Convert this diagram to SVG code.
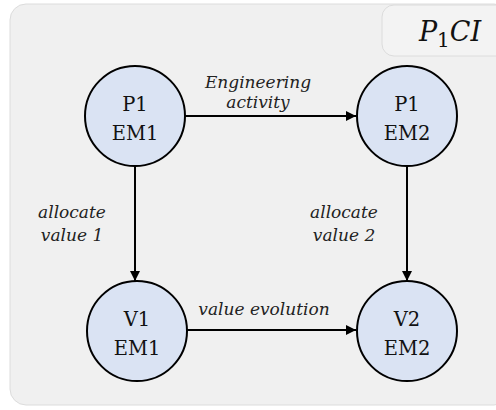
<svg xmlns="http://www.w3.org/2000/svg" width="496" height="410" viewBox="0 0 496 410">
<defs>
<style>
.node circle{fill:#dae3f3;stroke:#000;stroke-width:2}
.node text{font-family:"DejaVu Serif","Liberation Serif",serif;font-size:19.5px;fill:#111;text-anchor:middle}
.lbl{font-family:"DejaVu Serif","Liberation Serif",serif;font-style:italic;font-size:17px;fill:#222;text-anchor:middle}
.conn line{stroke:#000;stroke-width:2;marker-end:url(#ah)}
</style>
<marker id="ah" viewBox="0 0 10 10" refX="10" refY="5" markerWidth="5" markerHeight="5" orient="auto" markerUnits="strokeWidth">
<path d="M0,0 L10,5 L0,10 z" fill="#000"/>
</marker>
</defs>
<rect width="496" height="410" fill="#fff"/>
<rect x="10" y="4" width="500" height="401" rx="16" fill="#f0f0f0" stroke="#dcdcdc" stroke-width="1"/>
<g id="title">
<rect x="382" y="5" width="130" height="51" rx="12" fill="#f3f3f3" stroke="#dcdcdc" stroke-width="1"/>
<text x="450" y="41" font-family="'DejaVu Serif','Liberation Serif',serif" font-style="italic" font-size="27" text-anchor="middle" fill="#111">P<tspan font-style="normal" font-size="20" dy="6">1</tspan><tspan dy="-6">CI</tspan></text>
</g>
<g id="connectors" class="conn">
<line x1="185" y1="116" x2="356" y2="116"/>
<line x1="135" y1="166" x2="135" y2="281"/>
<line x1="407" y1="166" x2="407" y2="281"/>
<line x1="187" y1="330" x2="356" y2="330"/>
<text class="lbl" x="258" y="88">Engineering</text>
<text class="lbl" x="258" y="108">activity</text>
<text class="lbl" x="72" y="218">allocate</text>
<text class="lbl" x="72" y="241">value 1</text>
<text class="lbl" x="344" y="218">allocate</text>
<text class="lbl" x="344" y="241">value 2</text>
<text class="lbl" x="264" y="315">value evolution</text>
</g>
<g id="p1em1" class="node"><circle cx="135" cy="116" r="50"/><text x="135" y="111">P1</text><text x="135" y="140">EM1</text></g>
<g id="p1em2" class="node"><circle cx="407" cy="116" r="50"/><text x="407" y="111">P1</text><text x="407" y="140">EM2</text></g>
<g id="v1em1" class="node"><circle cx="137" cy="331" r="50"/><text x="137" y="326">V1</text><text x="137" y="355">EM1</text></g>
<g id="v2em2" class="node"><circle cx="407" cy="331" r="50"/><text x="407" y="326">V2</text><text x="407" y="355">EM2</text></g>
</svg>
